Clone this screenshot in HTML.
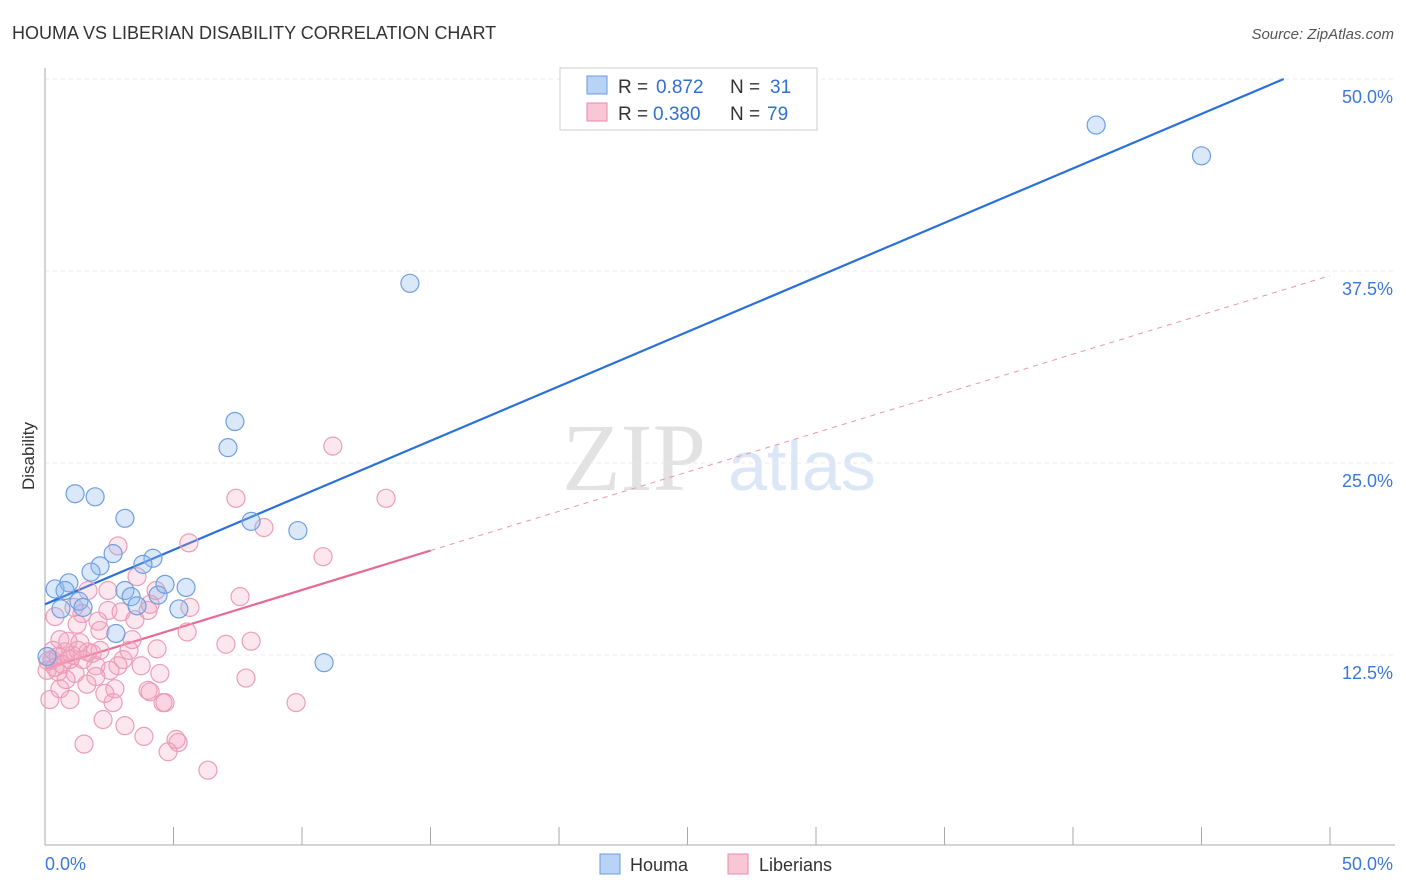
<!DOCTYPE html>
<html><head><meta charset="utf-8"><style>
body{margin:0;background:#fff;font-family:"Liberation Sans",sans-serif}
</style></head><body>
<svg id="chart" width="1406" height="892" style="display:block">
<text x="12" y="39" font-size="18" fill="#333">HOUMA VS LIBERIAN DISABILITY CORRELATION CHART</text>
<text x="1394" y="39" font-size="15" fill="#555" font-style="italic" text-anchor="end">Source: ZipAtlas.com</text>
<text x="34" y="456" font-size="17" fill="#333" transform="rotate(-90 34 456)" text-anchor="middle">Disability</text>
<g><text x="634" y="490" font-size="96" fill="#e2e2e2" font-family="Liberation Serif,serif" text-anchor="middle">ZIP</text><text x="802" y="490" font-size="70" fill="#dbe7f6" text-anchor="middle">atlas</text></g>
<g id="grid"></g><g id="axes"></g><g id="lines"></g><g id="pts"></g>
<g>
<rect x="560" y="68" width="257" height="62" fill="#fff" stroke="#ccc"/>
<rect x="587" y="76" width="20" height="18" fill="#b8d3f5" stroke="#6a9be0"/>
<text x="618" y="93" font-size="19" fill="#333">R =</text><text x="656" y="93" font-size="19" fill="#2f6fd6">0.872</text>
<text x="730" y="93" font-size="19" fill="#333">N =</text><text x="770" y="93" font-size="19" fill="#2f6fd6">31</text>
<rect x="587" y="103" width="20" height="18" fill="#f8c6d5" stroke="#e88aa8"/>
<text x="618" y="120" font-size="19" fill="#333">R =</text><text x="653" y="120" font-size="19" fill="#2f6fd6">0.380</text>
<text x="730" y="120" font-size="19" fill="#333">N =</text><text x="767" y="120" font-size="19" fill="#2f6fd6">79</text>
</g>
<g>
<rect x="600" y="854" width="20" height="20" fill="#b8d3f5" stroke="#6a9be0"/>
<text x="630" y="871" font-size="18" fill="#333">Houma</text>
<rect x="728" y="854" width="20" height="20" fill="#f8c6d5" stroke="#e88aa8"/>
<text x="759" y="871" font-size="18" fill="#333">Liberians</text>
</g>
</svg>
<script>
const yTicks=[12.5,25,37.5,50];
const yTickLabels=["12.5%","25.0%","37.5%","50.0%"];
const xTickCount=10;
const houmaX=[1.17,1.95,3.11,7.39,7.12,14.2,40.9,45.0,8.02,9.84,2.65,4.20,2.14,1.79,3.81,0.39,0.93,0.78,0.62,1.32,1.48,3.11,3.35,3.58,4.40,4.67,5.49,5.21,2.76,10.86,0.08];
const houmaY=[23.0,22.8,21.4,27.7,26.0,36.7,47.0,45.0,21.2,20.6,19.1,18.8,18.3,17.9,18.4,16.8,17.2,16.7,15.5,16.0,15.6,16.7,16.3,15.7,16.4,17.1,16.9,15.5,13.9,12.0,12.4];
const libX=[11.2,7.43,13.27,8.52,10.82,5.60,2.84,3.58,2.45,1.67,4.32,7.59,5.64,4.01,0.39,2.45,2.96,1.44,1.13,1.25,2.06,2.14,0.89,1.36,5.53,8.02,7.04,4.36,3.27,1.83,0.78,0.51,0.27,0.12,0.66,1.05,1.48,1.98,2.84,3.74,1.17,0.39,0.08,1.98,2.72,1.63,0.58,2.33,0.97,2.65,4.01,4.09,4.59,4.67,7.82,9.77,2.26,3.11,3.85,5.10,5.18,1.52,4.79,6.34,4.47,3.04,0.82,0.19,2.53,3.50,0.58,4.09,1.28,0.51,0.31,1.67,0.97,2.14,3.39];
const libY=[26.1,22.7,22.7,20.8,18.9,19.8,19.6,17.6,16.7,16.7,16.7,16.3,15.6,15.4,15.0,15.4,15.3,15.2,15.6,14.5,14.7,14.1,13.4,13.3,14.0,13.4,13.2,12.9,12.8,12.6,12.7,12.4,12.2,12.1,11.9,12.5,12.2,11.8,11.8,11.8,11.3,11.7,11.5,11.1,10.3,10.6,10.3,10.0,9.6,9.4,10.2,10.1,9.4,9.4,11.0,9.4,8.3,7.9,7.2,7.0,6.8,6.7,6.2,5.0,11.3,12.2,10.9,9.6,11.5,14.8,13.5,15.8,12.8,11.4,12.8,12.7,12.2,12.8,13.5];
const houmaFit=[15.8,0,50,48.2];
const libFit=[11.6,0,15,19.3,50,37.2];
const NS="http://www.w3.org/2000/svg";
const X=v=>45+v*1285/50, Y=v=>847-v*192/12.5;
function mk(p,t,a){const e=document.createElementNS(NS,t);for(const k in a)e.setAttribute(k,a[k]);document.getElementById(p).appendChild(e);return e;}
yTicks.forEach((t,i)=>{
 const g=mk('grid','line',{x1:45,x2:1395,y1:Y(t),y2:Y(t),stroke:'#e8e8e8','stroke-dasharray':'4,4'});
 
 
 const l=mk('grid','text',{x:1393,y:Y(t)+24,'font-size':18,fill:'#3b78d8','text-anchor':'end'});
 l.textContent=yTickLabels[i];
 
 
});
const ax=mk('axes','line',{x1:45,x2:45,y1:68,y2:845,stroke:'#aaa'});


const bx=mk('axes','line',{x1:45,x2:1395,y1:845,y2:845,stroke:'#aaa'});


for(let i=0;i<=xTickCount;i++){
 const t=mk('axes','line',{x1:X(i*5),x2:X(i*5),y1:827,y2:845,stroke:'#aaa'});
 
 
}
[[0,'start','0.0%',45],[50,'end','50.0%',1393]].forEach(a=>{
 const l=mk('axes','text',{x:a[3],y:870,'font-size':18,fill:'#3b78d8','text-anchor':a[1]});
 l.textContent=a[2];
 
 
});
libX.forEach((v,i)=>{
 const c=mk('pts','circle',{cx:X(v),cy:Y(libY[i]),r:9,fill:'rgba(245,160,188,0.25)',stroke:'#eb9db7','stroke-width':1.2});
 
 
});
houmaX.forEach((v,i)=>{
 const c=mk('pts','circle',{cx:X(v),cy:Y(houmaY[i]),r:9,fill:'rgba(140,182,238,0.32)',stroke:'#6f9fe0','stroke-width':1.2});
 
 
});
const hl=mk('lines','line',{x1:X(houmaFit[1]),y1:Y(houmaFit[0]),x2:X(houmaFit[3]),y2:Y(50),stroke:'#2a70d8','stroke-width':2.2});


const pl=mk('lines','line',{x1:X(libFit[1]),y1:Y(libFit[0]),x2:X(libFit[2]),y2:Y(libFit[3]),stroke:'#e86a93','stroke-width':2.2});


const pd=mk('lines','line',{x1:X(libFit[2]),y1:Y(libFit[3]),x2:X(libFit[4]),y2:Y(libFit[5]),stroke:'#e995b0','stroke-width':1,'stroke-dasharray':'5,5'});


</script>
</body></html>
